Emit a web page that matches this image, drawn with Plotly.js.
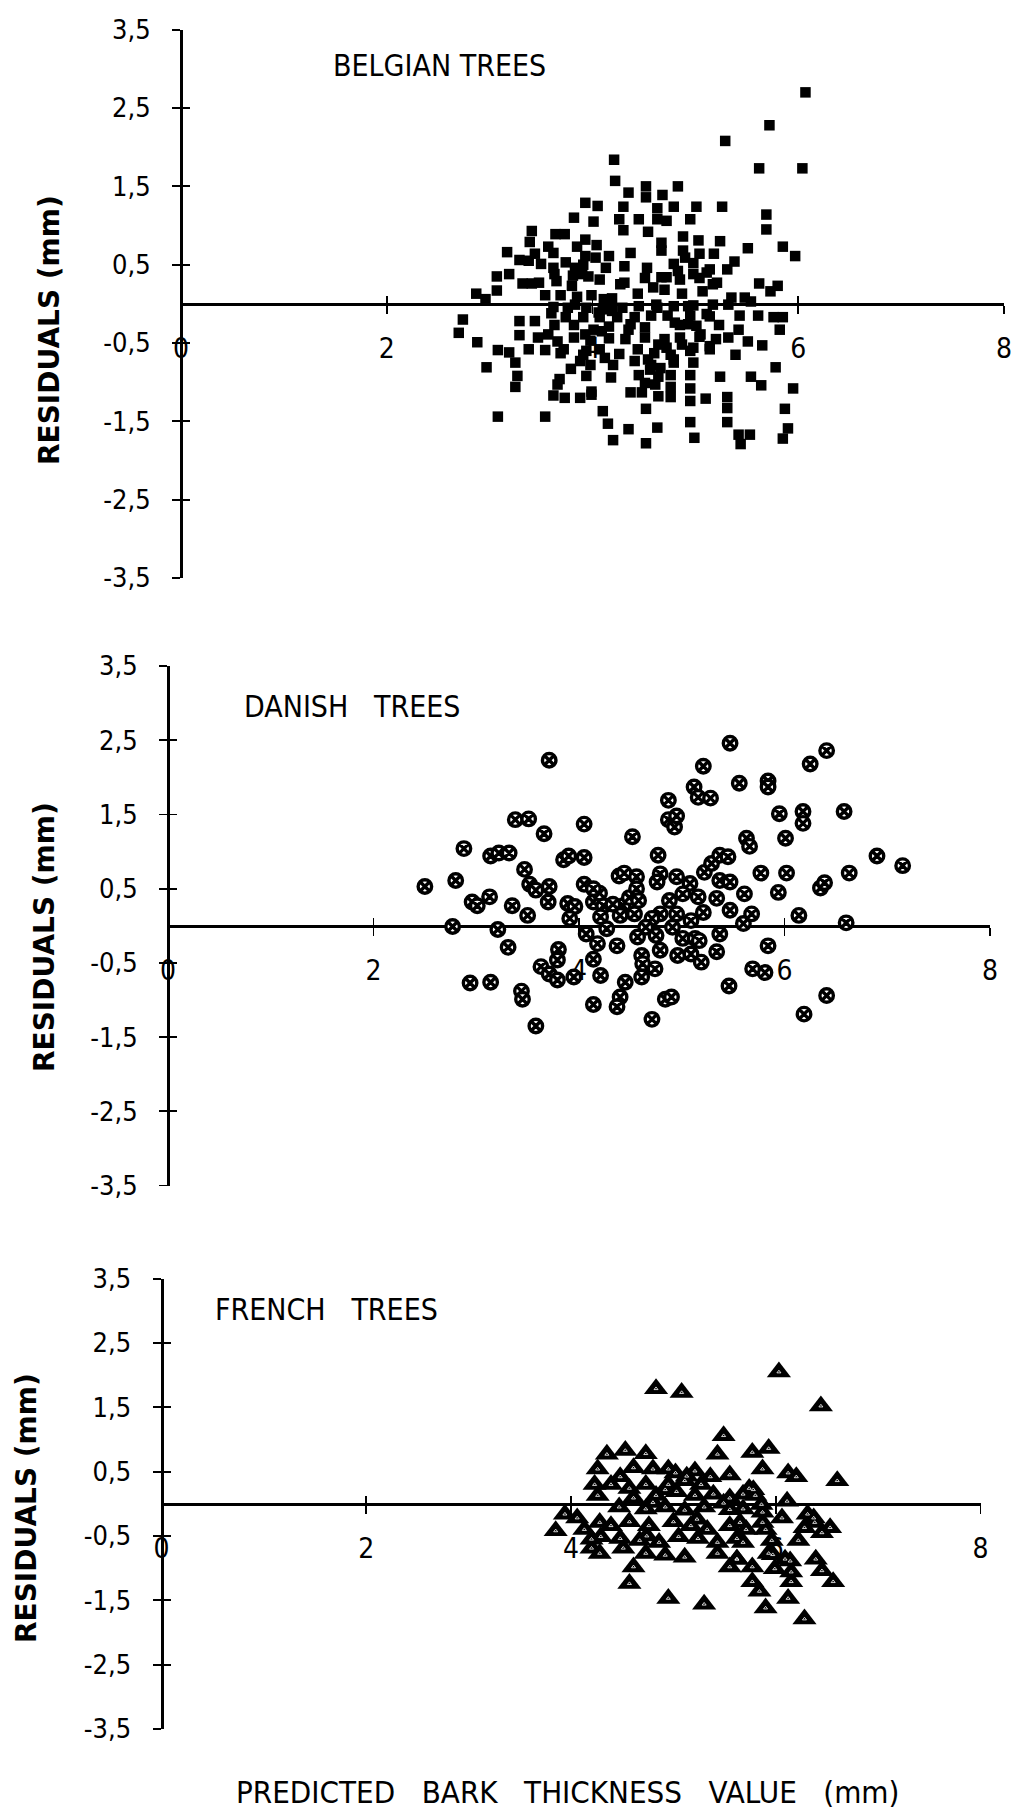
<!DOCTYPE html>
<html>
<head>
<meta charset="utf-8">
<script src="https://cdn.plot.ly/plotly-3.0.1.min.js"></script>
<style>
html,body{margin:0;padding:0;background:#fff;}
#chart{width:1013px;height:1817px;}
</style>
</head>
<body>
<div id="chart"></div>
<script>
// ---------------- DATA ----------------
const xTickVals = [0, 2, 4, 6, 8];
const xTickText = ['0', '2', '4', '6', '8'];
const yTickVals = [3.5, 2.5, 1.5, 0.5, -0.5, -1.5, -2.5, -3.5];
const yTickText = ['3,5', '2,5', '1,5', '0,5', '-0,5', '-1,5', '-2,5', '-3,5'];

const panelTitles = ['BELGIAN TREES', 'DANISH\u00a0\u00a0\u00a0TREES', 'FRENCH\u00a0\u00a0\u00a0TREES'];
const yTitle = 'RESIDUALS (mm)';
const xTitle = 'PREDICTED\u00a0\u00a0\u00a0BARK\u00a0\u00a0\u00a0THICKNESS\u00a0\u00a0\u00a0VALUE\u00a0\u00a0\u00a0(mm)';

const belgianX = [6.07,5.72,5.29,5.62,6.04,4.21,4.22,4.35,4.52,4.83,4.52,4.68,3.93,4.05,4.30,4.63,4.79,5.01,5.26,3.82,
4.01,4.26,4.45,4.63,4.95,5.69,5.69,4.30,4.54,3.41,3.73,3.93,4.88,4.67,5.24,5.51,5.85,5.97,3.39,3.57,
3.85,4.04,3.17,3.44,3.62,4.16,4.37,4.88,5.04,5.18,5.38,3.29,3.50,3.74,3.91,4.13,4.31,4.79,4.98,5.14,
5.31,3.07,3.19,3.63,3.81,3.96,4.07,4.31,4.51,4.67,4.85,5.04,5.21,5.62,5.80,2.87,3.07,3.32,3.41,3.54,
3.69,3.85,3.99,4.19,4.44,4.70,4.87,5.07,5.35,5.48,5.73,5.54,3.62,3.76,3.94,4.10,4.29,4.45,4.63,4.79,
4.98,5.17,5.32,2.74,3.60,3.74,3.91,4.07,4.24,4.41,4.57,4.73,4.95,5.14,5.43,5.61,5.76,5.85,2.70,3.29,
3.44,3.63,3.82,4.01,4.16,4.35,4.51,4.85,5.01,5.23,5.42,5.82,2.88,3.29,3.47,3.66,3.82,3.98,4.16,4.32,
4.51,4.70,4.85,5.04,5.20,5.32,5.51,5.65,3.08,3.19,3.38,3.54,3.69,3.91,4.07,4.26,4.44,4.60,4.76,4.95,
5.14,5.39,2.97,3.25,3.79,3.98,4.20,4.41,4.57,4.79,4.98,5.78,3.27,3.68,3.94,4.18,4.45,4.64,4.76,4.95,
5.24,5.54,3.25,3.66,4.51,4.76,4.95,5.64,5.95,3.62,3.73,3.88,3.99,4.37,4.48,4.64,4.76,4.95,5.10,5.31,
4.52,5.31,5.87,4.10,3.08,3.54,4.15,4.35,4.63,4.95,5.31,5.90,4.20,4.52,4.99,5.42,5.44,5.53,5.85,
4.72,5.03,3.93,4.03,4.67,4.90,3.90,4.53,4.72,4.83,4.98,5.11,5.17,4.11,4.27,4.59,4.62,4.93,5.11,4.06,
4.19,4.37,4.80,4.93,5.05,3.93,4.09,4.64,4.72,4.87,4.98,5.14,3.94,4.12,4.54,4.79,4.56,4.66,3.99,4.61,
3.64,3.38,3.62,3.83,3.48,3.65,3.80,2.96,3.83,3.57,3.72,3.88];
const belgianY = [2.70,2.28,2.08,1.73,1.73,1.84,1.57,1.42,1.50,1.50,1.36,1.39,1.29,1.25,1.24,1.22,1.24,1.24,1.24,1.10,
1.05,1.08,1.08,1.08,1.08,1.14,0.95,0.94,0.92,0.93,0.89,0.82,0.86,0.78,0.80,0.71,0.73,0.61,0.79,0.73,
0.73,0.75,0.66,0.64,0.65,0.61,0.65,0.68,0.64,0.64,0.54,0.56,0.51,0.53,0.50,0.46,0.48,0.51,0.52,0.44,
0.44,0.35,0.38,0.38,0.36,0.35,0.31,0.27,0.33,0.34,0.31,0.33,0.27,0.26,0.23,0.13,0.17,0.26,0.26,0.11,
0.11,0.09,0.11,0.07,0.13,0.18,0.13,0.16,0.08,0.08,0.16,0.03,-0.04,-0.05,-0.05,-0.07,-0.05,-0.03,-0.05,-0.03,
-0.02,-0.01,-0.01,-0.20,-0.12,-0.17,-0.17,-0.17,-0.17,-0.17,-0.15,-0.15,-0.15,-0.16,-0.15,-0.15,-0.17,-0.17,-0.37,-0.22,
-0.22,-0.27,-0.27,-0.33,-0.29,-0.33,-0.30,-0.27,-0.28,-0.27,-0.33,-0.33,-0.49,-0.40,-0.43,-0.48,-0.43,-0.47,-0.44,-0.45,
-0.43,-0.45,-0.43,-0.42,-0.45,-0.43,-0.48,-0.53,-0.59,-0.62,-0.58,-0.59,-0.63,-0.65,-0.58,-0.64,-0.58,-0.63,-0.65,-0.60,
-0.58,-0.65,-0.81,-0.75,-0.83,-0.78,-0.78,-0.73,-0.78,-0.75,-0.75,-0.81,-0.92,-0.96,-0.92,-0.94,-0.91,-0.93,-0.91,-0.91,
-0.93,-0.93,-1.06,-1.03,-1.01,-1.06,-1.08,-1.04,-1.08,-1.17,-1.20,-1.20,-1.16,-1.13,-1.13,-1.18,-1.19,-1.24,-1.21,-1.19,
-1.34,-1.33,-1.34,-1.37,-1.44,-1.44,-1.53,-1.60,-1.58,-1.51,-1.51,-1.59,-1.74,-1.78,-1.71,-1.67,-1.79,-1.67,-1.72,
1.06,0.81,0.61,0.59,0.68,0.59,0.38,0.46,0.34,0.42,0.38,0.40,0.25,0.06,0.25,0.21,-0.01,-0.03,-0.13,-0.11,
-0.09,-0.26,-0.24,-0.26,-0.39,-0.39,-0.35,-0.52,-0.56,-0.52,-0.56,-0.54,-0.60,-0.69,-0.71,-0.71,-0.84,-0.82,-1.12,-1.03,
0.89,0.55,0.46,0.46,0.27,0.29,0.23,0.06,-0.01,-0.39,-0.58,-0.73];

const danishX = [2.50,2.80,2.88,2.77,2.96,3.01,3.13,3.14,3.22,3.32,3.21,3.31,3.38,3.51,3.35,3.47,3.50,3.52,3.58,3.66,
3.71,3.71,3.70,3.85,3.90,3.89,3.96,3.91,4.05,4.05,4.05,4.07,4.14,4.20,4.24,4.21,4.27,4.39,4.44,4.43,
4.40,4.49,4.37,4.18,3.80,3.79,3.63,3.71,3.79,3.95,4.14,4.21,4.45,4.40,4.37,4.14,2.94,3.14,3.44,3.45,
3.58,4.33,4.14,
4.52,4.87,4.87,4.93,4.95,5.12,5.16,5.21,5.28,5.47,5.46,5.56,5.63,5.66,4.71,4.84,4.90,5.77,5.81,5.84,
5.84,5.84,5.94,5.95,6.01,6.02,6.14,6.18,6.18,6.19,6.25,6.35,6.39,6.41,6.41,6.58,6.60,6.63,6.90,7.15,
4.56,4.56,4.58,4.54,4.77,4.79,4.76,4.95,5.08,5.16,5.01,4.88,4.95,5.21,5.09,4.79,4.71,4.65,4.75,4.57,
4.91,5.01,5.13,5.17,5.37,4.79,4.61,4.62,4.74,4.61,4.96,5.09,5.19,5.34,5.47,5.60,5.68,5.34,5.22,5.29,
5.37,5.45,5.37,5.47,5.61,5.69];
const danishY = [0.53,0.61,1.04,-0.01,0.32,0.27,0.39,0.94,0.98,0.98,-0.05,-0.29,1.43,1.44,0.27,0.76,0.14,0.56,0.48,1.24,
2.23,0.53,0.32,0.89,0.94,0.30,0.26,0.10,1.37,0.92,0.56,-0.11,0.32,0.44,0.27,0.12,-0.04,0.67,0.71,0.27,
0.14,0.38,-0.27,-0.24,-0.32,-0.46,-0.55,-0.65,-0.73,-0.69,-0.45,-0.67,-0.76,-0.96,-1.09,-1.06,-0.77,-0.76,-0.88,-0.99,
-1.35,0.29,0.50,
1.20,1.69,1.43,1.33,1.48,1.87,1.73,2.15,1.72,2.46,-0.81,1.92,1.18,1.07,-1.26,-0.99,-0.96,0.71,-0.63,1.95,
1.87,-0.27,0.45,1.51,1.18,0.71,0.14,1.54,1.38,-1.19,2.18,0.51,0.58,2.36,-0.94,1.54,0.04,0.71,0.94,0.81,
0.66,0.50,0.34,0.16,0.95,0.70,0.59,0.66,0.57,0.39,0.43,0.34,0.16,0.18,0.07,0.16,0.10,-0.02,-0.13,-0.15,
-0.02,-0.17,-0.17,-0.20,-0.11,-0.33,-0.40,-0.51,-0.58,-0.69,-0.40,-0.38,-0.49,-0.35,0.21,0.03,0.16,0.37,0.72,0.84,
0.95,0.93,0.61,0.59,0.43,-0.58];

const frenchX = [4.83,5.08,6.03,6.44,5.49,5.77,5.93,6.60,4.35,4.53,4.73,4.26,4.80,4.95,5.02,5.21,5.43,5.55,5.87,6.12,
6.20,4.23,4.39,4.48,4.57,4.73,4.95,5.11,5.27,5.36,5.74,4.26,4.83,5.03,5.21,5.80,6.11,4.47,4.73,4.92,
5.11,5.30,5.49,5.68,5.87,3.94,4.06,6.06,6.31,6.37,4.13,4.39,4.57,4.76,5.00,5.17,5.33,5.55,5.71,5.90,
6.28,6.53,6.45,3.85,4.29,4.48,4.67,4.86,5.05,5.24,5.43,5.62,5.96,6.22,4.20,4.28,4.51,4.73,4.92,5.11,
5.43,5.62,5.93,6.09,6.39,4.61,5.55,5.77,5.99,6.15,6.45,4.57,5.77,6.15,6.56,5.84,6.12,4.95,5.30,5.90,
6.28,
4.61,5.13,4.92,4.61,5.39,5.55,4.80,5.55,4.28,5.23,4.20,4.74,5.78,5.86,5.68,6.38,5.65,5.87,5.68,5.97,
6.14,5.62];
const frenchY = [1.79,1.73,2.05,1.52,1.06,0.80,0.86,0.36,0.77,0.83,0.78,0.54,0.54,0.54,0.48,0.51,0.77,0.45,0.54,0.48,
0.42,0.30,0.30,0.42,0.24,0.30,0.30,0.36,0.30,0.42,0.24,0.13,0.13,0.19,0.13,0.13,0.04,-0.05,-0.08,-0.05,
-0.10,-0.05,0.01,-0.08,-0.13,-0.16,-0.22,-0.22,-0.16,-0.22,-0.40,-0.34,-0.28,-0.34,-0.28,-0.34,-0.40,-0.34,-0.40,-0.40,
-0.37,-0.37,-0.45,-0.42,-0.51,-0.54,-0.57,-0.60,-0.51,-0.54,-0.60,-0.54,-0.57,-0.57,-0.69,-0.77,-0.69,-0.77,-0.80,-0.83,
-0.77,-0.86,-0.77,-0.86,-0.86,-0.98,-0.98,-0.98,-1.01,-1.06,-1.04,-1.24,-1.21,-1.21,-1.21,-1.36,-1.47,-1.47,-1.56,-1.62,
-1.79,
0.56,0.43,0.22,0.09,0.15,0.09,0.02,-0.09,-0.29,-0.24,-0.55,-0.50,0.22,-0.01,0.15,-0.29,-0.29,-0.29,-0.60,-0.79,
-0.89,-0.86];

// ---------------- LAYOUT ----------------
const W = 1013, H = 1817;
const NARROW = "'Liberation Sans Narrow', 'DejaVu Sans Condensed', 'Arial Narrow', 'Liberation Sans', sans-serif";
const WIDE = "'DejaVu Sans', 'Verdana', sans-serif";

// pixel frames of the three panels: left edge (x=0), right edge (x=8), top (y=3.5), bottom (y=-3.5)
const frames = [
  {x0: 181, x8: 1004, top: 29.7, bot: 578},
  {x0: 168, x8: 990, top: 666, bot: 1185.6},
  {x0: 161.5, x8: 980.6, top: 1278.7, bot: 1729}
];
const titlePos = [{x: 331, y: 65}, {x: 242, y: 707}, {x: 213, y: 1309}];
const yTitlePos = [{x: 49, y: 330}, {x: 44, y: 937}, {x: 26, y: 1508}];

const layout = {
  width: W, height: H,
  margin: {l: 0, r: 0, t: 0, b: 0},
  paper_bgcolor: '#fff', plot_bgcolor: 'rgba(0,0,0,0)',
  showlegend: false,
  font: {family: NARROW, color: '#000'},
  annotations: []
};

frames.forEach((f, i) => {
  const n = i + 1, o = i + 4;
  const xs = n === 1 ? '' : String(n);
  const xDom = [f.x0 / W, f.x8 / W];
  const yDom = [1 - f.bot / H, 1 - f.top / H];
  const xPos = (yDom[0] + yDom[1]) / 2;
  const yPos = xDom[0];
  const common = {showgrid: false, zeroline: false, tickcolor: '#000', tickwidth: 1.8, ticklen: 8,
                  layer: 'below traces', fixedrange: true};
  layout['xaxis' + xs] = Object.assign({}, common, {
    domain: xDom, range: [0, 8], anchor: 'free', position: xPos,
    showline: true, linecolor: '#000', linewidth: 3, ticks: 'outside',
    tickmode: 'array', tickvals: xTickVals, ticktext: xTickText, ticklabeloverflow: 'allow',
    tickfont: {family: NARROW, size: 28, color: '#000'}, ticklabelstandoff: 11
  });
  layout['yaxis' + xs] = Object.assign({}, common, {
    domain: yDom, range: [-3.5, 3.5], anchor: 'free', position: yPos,
    showline: true, linecolor: '#000', linewidth: 3, ticks: 'outside',
    tickmode: 'array', tickvals: yTickVals, ticktext: yTickText, ticklabeloverflow: 'allow',
    tickfont: {family: NARROW, size: 27, color: '#000'}, ticklabelstandoff: 16
  });
  // overlay axes giving the inner half of the crossing tick marks
  layout['xaxis' + o] = Object.assign({}, common, {
    overlaying: 'x' + xs, range: [0, 8], anchor: 'free', position: xPos,
    showline: false, ticks: 'inside', tickmode: 'array', tickvals: xTickVals, showticklabels: false
  });
  layout['yaxis' + o] = Object.assign({}, common, {
    overlaying: 'y' + xs, range: [-3.5, 3.5], anchor: 'free', position: yPos,
    showline: false, ticks: 'inside', tickmode: 'array', tickvals: yTickVals, showticklabels: false
  });
  layout.annotations.push({
    text: panelTitles[i], xref: 'paper', yref: 'paper',
    x: titlePos[i].x / W, y: 1 - titlePos[i].y / H, xanchor: 'left', yanchor: 'middle',
    showarrow: false, font: {family: NARROW, size: 30, color: '#000'}
  });
  layout.annotations.push({
    text: yTitle, xref: 'paper', yref: 'paper', textangle: -90,
    x: yTitlePos[i].x / W, y: 1 - yTitlePos[i].y / H, xanchor: 'center', yanchor: 'middle',
    showarrow: false, font: {family: WIDE, size: 28, weight: 'bold', color: '#000'}
  });
});
layout.annotations.push({
  text: xTitle, xref: 'paper', yref: 'paper',
  x: 567 / W, y: 1 - 1792 / H, xanchor: 'center', yanchor: 'middle',
  showarrow: false, font: {family: NARROW, size: 31, color: '#000'}
});

const traces = [
  {type: 'scatter', mode: 'markers', x: belgianX, y: belgianY, xaxis: 'x', yaxis: 'y', cliponaxis: false,
   marker: {symbol: 'square', size: 10.5, color: '#000'}, hoverinfo: 'skip'},
  {type: 'scatter', mode: 'markers', x: danishX, y: danishY, xaxis: 'x2', yaxis: 'y2', cliponaxis: false,
   marker: {symbol: 'circle-x', size: 13.5, color: '#fff', line: {color: '#000', width: 3.4}}, hoverinfo: 'skip'},
  {type: 'scatter', mode: 'markers', x: frenchX, y: frenchY, xaxis: 'x3', yaxis: 'y3', cliponaxis: false,
   marker: {symbol: 'triangle-up', size: 21, color: '#000'}, hoverinfo: 'skip'},
  {type: 'scatter', mode: 'markers', x: frenchX, y: frenchY, xaxis: 'x3', yaxis: 'y3', cliponaxis: false,
   marker: {symbol: 'triangle-up-open', size: 3.5, color: '#fff', line: {width: 0.8}}, hoverinfo: 'skip'},
  {type: 'scatter', mode: 'markers', x: [], y: [], xaxis: 'x4', yaxis: 'y4'},
  {type: 'scatter', mode: 'markers', x: [], y: [], xaxis: 'x5', yaxis: 'y5'},
  {type: 'scatter', mode: 'markers', x: [], y: [], xaxis: 'x6', yaxis: 'y6'}
];

Plotly.newPlot('chart', traces, layout, {displayModeBar: false, staticPlot: true});
</script>
</body>
</html>
